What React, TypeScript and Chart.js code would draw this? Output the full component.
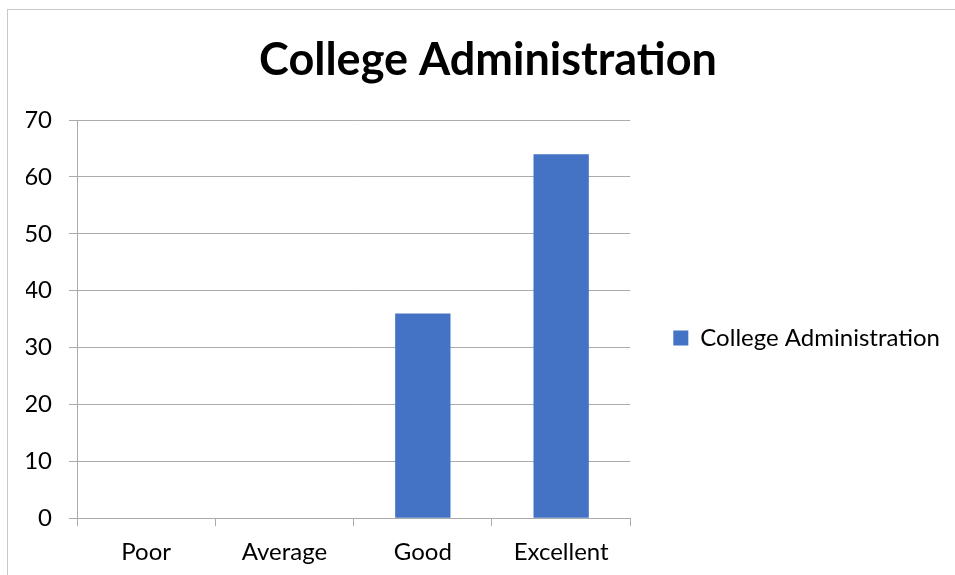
import React, { useEffect, useRef } from "react";
import { Chart, registerables } from "chart.js";

Chart.register(...registerables);

const chartTitle = "College Administration";
const seriesName = "College Administration";
const categories = ["Poor", "Average", "Good", "Excellent"];
const values = [0, 0, 36, 64];
const yMin = 0;
const yMax = 70;
const yStep = 10;

const FONT = "Lato, 'Open Sans', sans-serif";
const GRID = "#ababab";
const BAR = "#4472C4";

export default function App() {
  const ref = useRef<HTMLCanvasElement>(null);

  useEffect(() => {
    const chart = new Chart(ref.current as HTMLCanvasElement, {
      type: "bar",
      data: {
        labels: categories,
        datasets: [
          {
            label: seriesName,
            data: values,
            backgroundColor: BAR,
            borderWidth: 0,
            barPercentage: 0.4,
            categoryPercentage: 1,
          },
        ],
      },
      options: {
        animation: false,
        responsive: false,
        devicePixelRatio: 1,
        layout: { padding: { left: 26, right: 5, top: 0, bottom: -3 } },
        plugins: {
          title: {
            display: true,
            text: chartTitle,
            color: "#000",
            font: { family: FONT, size: 45, weight: "bold" },
            padding: { top: 33, bottom: 33 },
          },
          legend: {
            position: "right",
            fullSize: false,
            align: "center",
            maxWidth: 500,
            title: {
              display: true,
              text: " ",
              font: { family: FONT, size: 10 },
              padding: { top: 26, bottom: 0 },
            },
            labels: {
              boxWidth: 15,
              boxHeight: 15,
              padding: 43,
              color: "#000",
              font: { family: FONT, size: 24 },
            },
          },
          tooltip: { enabled: false },
        },
        scales: {
          x: {
            grid: { drawOnChartArea: false, drawTicks: true, tickLength: 8, color: GRID },
            border: { display: true, color: GRID },
            ticks: {
              color: "#000",
              padding: 11.5,
              maxRotation: 0,
              font: { family: FONT, size: 24 },
            },
          },
          y: {
            min: yMin,
            max: yMax,
            grid: { color: GRID, tickLength: 8 },
            border: { display: true, color: GRID },
            ticks: {
              stepSize: yStep,
              color: "#000",
              padding: 17,
              font: { family: FONT, size: 24 },
            },
            afterFit: (s: any) => {
              s.width = 51;
            },
          },
        },
      },
    });
    return () => chart.destroy();
  }, []);

  return (
    <div>
      <div
        style={{
          position: "fixed",
          left: 7,
          top: 9,
          width: 1200,
          height: 1000,
          border: "1px solid #c8c8c8",
          boxSizing: "border-box",
        }}
      />
      <canvas
        ref={ref}
        width={955}
        height={575}
        style={{ position: "fixed", left: 0, top: 0, width: 955, height: 575 }}
      />
    </div>
  );
}
